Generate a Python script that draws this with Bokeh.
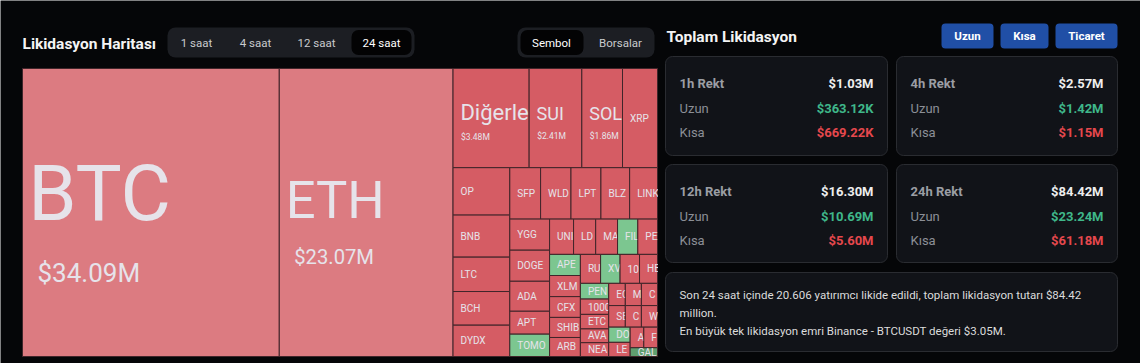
import math
from bokeh.plotting import figure
from bokeh.models import ColumnDataSource, CDSView, IndexFilter, BoxAnnotation, Range1d
from bokeh.core.properties import value
from bokeh.embed import file_html
from bokeh.resources import INLINE

# ---------------- data ----------------
symbols = ["BTC", "ETH", "Diğerleri", "SUI", "SOL", "XRP", "OP", "BNB", "LTC", "BCH", "DYDX",
           "SFP", "WLD", "LPT", "BLZ", "LINK", "YGG", "DOGE", "ADA", "APT", "TOMO",
           "UNI", "LDO", "MASK", "FIL", "PEOPLE", "APE", "XLM", "CFX", "SHIB", "ARB",
           "RUNE", "XVS", "1000PEPE", "HBAR", "PENDLE", "1000SATS", "ETC", "AVAX", "NEAR",
           "EOS", "MKR", "COMP", "SEI", "CRV", "WIF", "DOT", "LEVER", "AXS", "FTM", "GALA"]
liq_musd = [34.09, 23.07, 3.48, 2.41, 1.86, 1.60, 1.24, 1.10, 0.90, 0.88, 0.82,
            0.73, 0.72, 0.71, 0.68, 0.66, 0.57, 0.57, 0.55, 0.42, 0.41,
            0.39, 0.36, 0.355, 0.33, 0.32, 0.30, 0.30, 0.295, 0.285, 0.27,
            0.27, 0.26, 0.26, 0.24, 0.205, 0.20, 0.19, 0.18, 0.18,
            0.17, 0.165, 0.165, 0.165, 0.16, 0.16, 0.15, 0.14, 0.13, 0.13, 0.11]
price_move = [-1, -1, -2, -2, -2, -2, -2, -2, -2, -2, -2,
              -2, -2, -2, -2, -2, -2, -2, -2, -2, 2,
              -2, -2, -2, 2, -2, 2, -2, -2, -2, -2,
              -2, 2, -2, -2, 2, -2, -2, -2, -2,
              -2, -2, -2, -2, -2, -2, 2, -2, -2, -2, 3]

periods = ["1h", "4h", "12h", "24h"]
rekt_total = [1.03, 2.57, 16.30, 84.42]      # $M
rekt_long = [0.36312, 1.42, 10.69, 23.24]    # $M
rekt_short = [0.66922, 1.15, 5.60, 61.18]    # $M

time_options = ["1 saat", "4 saat", "12 saat", "24 saat"]
group_options = ["Sembol", "Borsalar"]
action_buttons = ["Uzun", "Kısa", "Ticaret"]
traders_liquidated = "20.606"
largest_exchange, largest_pair, largest_musd = "Binance", "BTCUSDT", 3.05

# ---------------- styles / layout ----------------
W, H = 1140, 363
BG = "#050608"
CELL_LINE = "#40252a"
MOVE_COLORS = {-1: "#dc7b81", -2: "#d55c64", 2: "#7cc690", 3: "#5f9e6f"}
CELL_TEXT = "#e6e3ea"
CARD_BG, CARD_LINE = "#111318", "#2a2c31"
SEG_BG, SEG_SEL = "#1c1e23", "#030304"
BTN = "#204fa6"
C_WHITE, C_GRAY, C_GRAY_B = "#eeeeee", "#8c8f96", "#9b9ea4"
C_GREEN, C_RED = "#3fb78a", "#e5484d"
FONT = "Roboto"
TM_BOX = (22.0, 68.0, 657.0, 356.0)


def Y(y):
    return H - y


p = figure(width=W, height=H, x_range=Range1d(0, W), y_range=Range1d(0, H),
           output_backend="svg", toolbar_location=None,
           x_axis_type=None, y_axis_type=None, min_border=0,
           background_fill_color=BG, border_fill_color=BG, outline_line_color=None)
p.grid.visible = False


def rbox(x0, y0, x1, y1, fill, line=None, r=6):
    p.add_layout(BoxAnnotation(left=x0, right=x1, top=Y(y0), bottom=Y(y1),
                               fill_color=fill, fill_alpha=1.0,
                               line_color=line if line else fill, line_alpha=1.0 if line else 0.0,
                               line_width=1, border_radius=r, level="underlay"))


def txt(x, y, s, size, color, align="left", baseline="middle", bold=False):
    p.text(x=[x], y=[Y(y)], text=[s], text_font=value(FONT), text_font_size=f"{size}px",
           text_color=color, text_align=align, text_baseline=baseline,
           text_font_style="bold" if bold else "normal")


# ---------------- treemap (d3-style squarify, golden ratio) ----------------
PHI = (1 + math.sqrt(5)) / 2


def squarify(vals, x0, y0, x1, y1, ratio=PHI):
    n = len(vals)
    out = [None] * n
    remaining = float(sum(vals))
    i0 = i1 = 0
    while i0 < n:
        dx, dy = x1 - x0, y1 - y0
        s = vals[i1]
        i1 += 1
        vmin = vmax = s
        alpha = max(dy / dx, dx / dy) / (remaining * ratio)
        beta = s * s * alpha
        best = max(vmax / beta, beta / vmin)
        while i1 < n:
            v = vals[i1]
            s2 = s + v
            mn, mx = min(vmin, v), max(vmax, v)
            beta = s2 * s2 * alpha
            r = max(mx / beta, beta / mn)
            if r > best:
                break
            s, vmin, vmax, best = s2, mn, mx, r
            i1 += 1
        if dx < dy:
            h = dy * s / remaining if i1 < n else dy
            x = x0
            for i in range(i0, i1):
                w = dx * vals[i] / s
                out[i] = (x, y0, x + w, y0 + h)
                x += w
            y0 += h
        else:
            w = dx * s / remaining if i1 < n else dx
            y = y0
            for i in range(i0, i1):
                hh = dy * vals[i] / s
                out[i] = (x0, y, x0 + w, y + hh)
                y += hh
            x0 += w
        remaining -= s
        i0 = i1
    return out


CW = {'I': .27, 'M': .87, 'W': .89, 'i': .24, 'l': .24, 'ı': .24, 'r': .34, 't': .33,
      'm': .86, '.': .26, ' ': .25, 'f': .35, 'j': .24, 'D': .655, 'ğ': .56}


def cw(ch):
    if ch in CW:
        return CW[ch]
    if ch.isdigit():
        return .56
    if ch.isupper():
        return .64
    return .53


def visible(label, width, fs, pad):
    out, x = "", pad
    for ch in label:
        if x >= width - 2.5:
            break
        out += ch
        x += cw(ch) * fs
    return out


order = sorted(range(len(symbols)), key=lambda i: -liq_musd[i])
vals = [liq_musd[i] for i in order]
rects = squarify(vals, *TM_BOX)

cols = dict(left=[], right=[], top=[], bottom=[], fill=[], label=[], lx=[], ly=[],
            vlabel=[], vx=[], vy=[])
cell_style = []
for rank, (i, (x0, y0, x1, y1)) in enumerate(zip(order, rects)):
    w, h = x1 - x0, y1 - y0
    cy = (y0 + y1) / 2
    v = liq_musd[i]
    cols["left"].append(x0)
    cols["right"].append(x1)
    cols["top"].append(Y(y0))
    cols["bottom"].append(Y(y1))
    cols["fill"].append(MOVE_COLORS[price_move[i]])
    if rank < 2 or v >= 1.8:
        if rank < 2:
            fs1, fs2, vpad = 0.302 * w, 0.07 * w + 8.0, 15.0
        else:
            fs1, fs2, vpad = min(max(0.32 * w, 18.0), 22.0), 8.5, 8.0
        pad = 8 - 0.03 * fs1
        mid = cy - 0.24 * fs1
        cols["label"].append(visible(symbols[i], w, fs1, pad))
        cols["lx"].append(x0 + pad)
        cols["ly"].append(Y(mid))
        cols["vlabel"].append(f"${v:.2f}M")
        cols["vx"].append(x0 + vpad)
        cols["vy"].append(Y(mid + 0.55 * fs1 + 1.4 * fs2))
        cell_style.append((fs1, fs2))
    else:
        fs1 = 10.0
        pad = 7.5
        cols["label"].append(visible(symbols[i], w, fs1, pad))
        cols["lx"].append(x0 + pad)
        cols["ly"].append(Y(cy))
        cols["vlabel"].append("")
        cols["vx"].append(x0)
        cols["vy"].append(Y(cy))
        cell_style.append((fs1, None))

src = ColumnDataSource(cols)
for k, (fs1, fs2) in enumerate(cell_style):
    view = CDSView(filter=IndexFilter([k]))
    p.quad(left="left", right="right", top="top", bottom="bottom", source=src, view=view,
           fill_color="fill", line_color=CELL_LINE, line_width=1)
    p.text(x="lx", y="ly", text="label", source=src, view=view,
           text_font=value(FONT), text_font_size=f"{fs1:.1f}px", text_color=CELL_TEXT,
           text_baseline="middle", text_align="left")
    if fs2:
        p.text(x="vx", y="vy", text="vlabel", source=src, view=view,
               text_font=value(FONT), text_font_size=f"{fs2:.1f}px", text_color=CELL_TEXT,
               text_baseline="middle", text_align="left")

# mask any label overflow beyond the treemap's right edge
p.quad(left=[TM_BOX[2] + 0.5], right=[TM_BOX[2] + 7.5], top=[Y(TM_BOX[1] - 2)], bottom=[Y(TM_BOX[3] + 2)],
       fill_color=BG, line_color=None)

# ---------------- header (left) ----------------
txt(22, 43, "Likidasyon Haritası", 15.5, "#f4f4f4", bold=True)
rbox(167, 27, 414, 57, SEG_BG, None, 8)
rbox(351, 29.5, 411, 54.5, SEG_SEL, None, 7)
for s, cx in zip(time_options, [196, 255, 316, 381]):
    txt(cx, 42.5, s, 11.5, "#ffffff" if s == "24 saat" else "#c9cacd", align="center")
rbox(517, 27, 654, 57, SEG_BG, None, 8)
rbox(520, 29.5, 583, 54.5, SEG_SEL, None, 7)
for s, cx in zip(group_options, [551, 620]):
    txt(cx, 42.5, s, 11.5, "#ffffff" if s == "Sembol" else "#c9cacd", align="center")

# ---------------- right panel ----------------
txt(666, 36, "Toplam Likidasyon", 15.5, "#f4f4f4", bold=True)
for s, (bx0, bx1) in zip(action_buttons, [(941, 993), (1000, 1048), (1055, 1117)]):
    rbox(bx0, 23, bx1, 48, BTN, None, 4)
    txt((bx0 + bx1) / 2, 35.5, s, 11.5, "#ffffff", align="center", bold=True)


def fmt(m):
    return f"${m * 1000:.2f}K" if m < 1 else f"${m:.2f}M"


CARD_X = [(665, 887), (896, 1117)]
CARD_Y = [(56, 155), (164, 262)]
for k, per in enumerate(periods):
    cx0, cx1 = CARD_X[k % 2]
    cy0, cy1 = CARD_Y[k // 2]
    rbox(cx0, cy0, cx1, cy1, CARD_BG, CARD_LINE, 7)
    rows = [(f"{per} Rekt", fmt(rekt_total[k]), C_WHITE),
            ("Uzun", fmt(rekt_long[k]), C_GREEN),
            ("Kısa", fmt(rekt_short[k]), C_RED)]
    for j, (lab, val, col) in enumerate(rows):
        yy = cy0 + 27 + 24.5 * j
        txt(cx0 + 14, yy, lab, 13, C_GRAY_B if j == 0 else C_GRAY, bold=(j == 0))
        txt(cx1 - 14, yy, val, 13, col, align="right", bold=True)

rbox(665, 272, 1117, 351, CARD_BG, CARD_LINE, 7)
summary = [
    f"Son 24 saat içinde {traders_liquidated} yatırımcı likide edildi, toplam likidasyon tutarı ${rekt_total[3]:.2f}",
    "million.",
    f"En büyük tek likidasyon emri {largest_exchange} - {largest_pair} değeri ${largest_musd:.2f}M.",
]
for j, line in enumerate(summary):
    txt(679, 294 + 18 * j, line, 11.5, "#dcdcdc")

open("out.html", "w").write(file_html(p, INLINE))
